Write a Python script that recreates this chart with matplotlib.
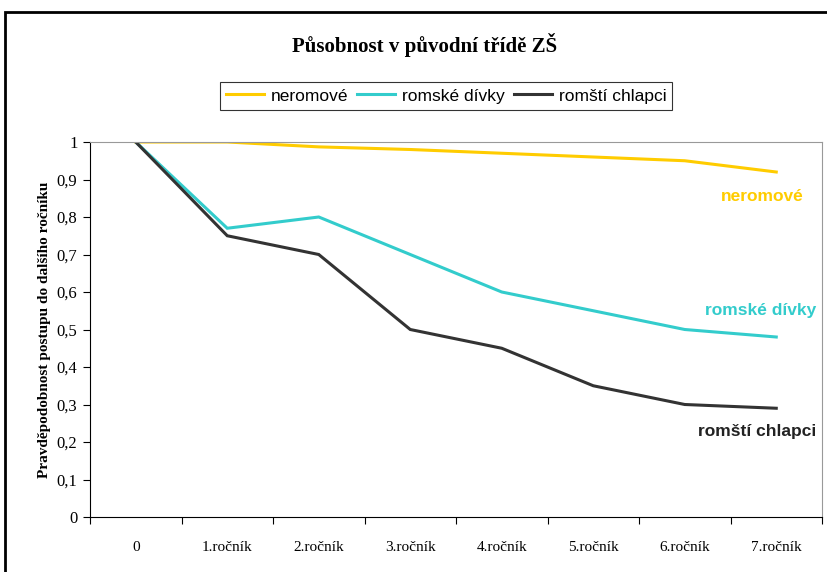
import numpy as np
from matplotlib import pyplot as plt
from matplotlib.patches import Rectangle

# ---------------- data --------------------------------
categories = ['0', '1.ročník', '2.ročník', '3.ročník', '4.ročník',
              '5.ročník', '6.ročník', '7.ročník']
neromove = [1.0, 1.0, 0.987, 0.98, 0.97, 0.96, 0.95, 0.92]
romske_divky = [1.0, 0.77, 0.80, 0.70, 0.60, 0.55, 0.50, 0.48]
romsti_chlapci = [1.0, 0.75, 0.70, 0.50, 0.45, 0.35, 0.30, 0.29]
y_ticks = [0, 0.1, 0.2, 0.3, 0.4, 0.5, 0.6, 0.7, 0.8, 0.9, 1.0]

series = [('neromové', neromove, '#FFCC00'),
          ('romské dívky', romske_divky, '#33CCCC'),
          ('romští chlapci', romsti_chlapci, '#333333')]

serif = 'Liberation Serif'
sans = 'Liberation Sans'

fig = plt.figure(figsize=(8.28, 5.72), dpi=100)
ax = fig.add_axes([90 / 828, 55 / 572, 732 / 828, 375 / 572])

x = np.arange(len(categories))
lines = []
for name, vals, col in series:
    ln, = ax.plot(x, vals, color=col, lw=2.2, label=name, solid_joinstyle='miter')
    lines.append(ln)

ax.set_xlim(-0.5, len(categories) - 0.5)
ax.set_ylim(0, 1)

# category axis: ticks between categories, labels centered
ax.set_xticks(np.arange(-0.5, len(categories), 1.0))
ax.set_xticklabels([])
ax.set_xticks(x, minor=True)
ax.set_xticklabels(categories, minor=True, fontfamily=serif, fontsize=11)
ax.tick_params(axis='x', which='major', direction='out', length=5, color='black')
ax.tick_params(axis='x', which='minor', length=0, pad=17)

ax.set_yticks(y_ticks)
ax.set_yticklabels([f'{v:g}'.replace('.', ',') for v in y_ticks],
                   fontfamily=serif, fontsize=12)
ax.tick_params(axis='y', direction='out', length=5, color='black', pad=4)

ax.spines['left'].set_color('black')
ax.spines['bottom'].set_color('black')
ax.spines['top'].set_color('#999999')
ax.spines['right'].set_color('#999999')

ax.set_ylabel('Pravděpodobnost postupu do dalšího ročníku', fontfamily=serif,
              fontsize=11, fontweight='bold', labelpad=4)

# labels at right end of lines
ax.text(7.3, 0.855, 'neromové', color='#FFCC00', fontfamily=sans,
        fontsize=12.5, fontweight='bold', ha='right', va='center')
ax.text(7.44, 0.55, 'romské dívky', color='#33CCCC', fontfamily=sans,
        fontsize=12.5, fontweight='bold', ha='right', va='center')
ax.text(7.44, 0.227, 'romští chlapci', color='#222222', fontfamily=sans,
        fontsize=12.5, fontweight='bold', ha='right', va='center')

fig.text(425 / 828, 1 - 45 / 572, 'Působnost v původní třídě ZŠ', fontfamily=serif,
         fontsize=15, fontweight='bold', ha='center', va='center')

leg = fig.legend(handles=lines, loc='center', bbox_to_anchor=(446 / 828, 1 - 96 / 572),
                 ncol=3, frameon=True, fancybox=False, edgecolor='black',
                 prop={'family': sans, 'size': 12.5}, handlelength=2.2,
                 handletextpad=0.4, columnspacing=0.5, borderpad=0.35)
leg.get_frame().set_linewidth(0.8)

# outer chart border
fig.patches.append(Rectangle((5 / 828, -0.05), 1.0, 1 - 12 / 572 + 0.05,
                             transform=fig.transFigure, fill=False,
                             edgecolor='black', lw=2.0))

plt.savefig('out.png', dpi=100)
